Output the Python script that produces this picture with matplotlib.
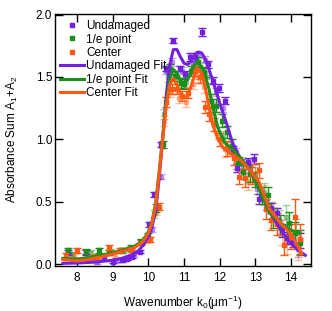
import matplotlib
matplotlib.use("Agg")
import matplotlib.pyplot as plt
from matplotlib.lines import Line2D

plt.rcParams['font.family'] = ['Liberation Sans', 'DejaVu Sans']
plt.rcParams['mathtext.fontset'] = 'custom'
plt.rcParams['mathtext.rm'] = 'Liberation Sans'
plt.rcParams['mathtext.it'] = 'Liberation Sans'

# ---------------- data ----------------
und_x = [7.75, 8.25, 8.75, 9.0, 9.25, 9.4, 9.55, 9.75, 10.02, 10.16, 10.36, 10.5, 10.68, 10.89, 11.03,
         11.18, 11.3, 11.5, 11.68, 11.82, 11.98, 12.16, 12.36, 12.48, 12.8, 12.96, 13.11, 13.43, 13.6,
         13.75, 13.9, 14.05, 14.25]
und_y = [0.09, 0.09, 0.05, 0.02, 0.03, 0.04, 0.06, 0.10, 0.32, 0.56, 0.96, 1.57, 1.79, 1.57, 1.52,
         1.66, 1.66, 1.86, 1.60, 1.47, 1.41, 1.31, 0.92, 0.77, 0.82, 0.84, 0.52, 0.45, 0.41,
         0.27, 0.21, 0.19, 0.19]
und_e = [0.02, 0.02, 0.02, 0.01, 0.01, 0.01, 0.01, 0.01, 0.02, 0.02, 0.02, 0.02, 0.02, 0.02, 0.03,
         0.03, 0.03, 0.03, 0.03, 0.03, 0.03, 0.03, 0.03, 0.03, 0.03, 0.04, 0.04, 0.04, 0.04,
         0.05, 0.05, 0.05, 0.06]

und2_x = [8.05, 8.55, 9.1, 9.6, 10.1, 10.35, 10.5, 10.65, 10.95, 11.25, 11.4, 11.6, 11.9, 12.1, 12.45,
          12.65, 12.85, 13.05, 13.3, 13.5, 13.7, 13.95, 14.2]
und2_y = [0.03, 0.02, 0.03, 0.08, 0.28, 0.70, 1.55, 1.62, 1.55, 1.60, 1.68, 1.64, 1.38, 1.25, 0.90,
          0.80, 0.78, 0.60, 0.47, 0.40, 0.30, 0.22, 0.12]
und2_e = [0.02, 0.02, 0.02, 0.02, 0.02, 0.02, 0.03, 0.03, 0.03, 0.03, 0.03, 0.03, 0.03, 0.03, 0.03,
          0.04, 0.04, 0.04, 0.04, 0.05, 0.05, 0.06, 0.06]

ie_x = [7.75, 8.25, 8.6, 8.9, 9.25, 9.5, 9.8, 10.0, 10.2, 10.4, 10.6, 10.75, 10.9, 11.0, 11.2, 11.4,
        11.55, 11.75, 11.9, 12.05, 12.2, 12.35, 12.5, 12.65, 12.85, 13.0, 13.2, 13.35, 13.5, 13.7,
        13.95, 14.1, 14.25]
ie_y = [0.11, 0.10, 0.11, 0.09, 0.11, 0.13, 0.18, 0.23, 0.45, 0.96, 1.56, 1.51, 1.45, 1.44, 1.55, 1.62,
        1.54, 1.31, 1.27, 1.15, 1.06, 0.95, 0.81, 0.74, 0.72, 0.68, 0.55, 0.55, 0.37, 0.31,
        0.33, 0.25, 0.17]
ie_e = [0.02, 0.02, 0.02, 0.02, 0.02, 0.02, 0.02, 0.02, 0.03, 0.03, 0.04, 0.04, 0.04, 0.04, 0.04, 0.04,
        0.04, 0.05, 0.05, 0.05, 0.05, 0.05, 0.05, 0.06, 0.06, 0.06, 0.07, 0.07, 0.08, 0.08,
        0.09, 0.09, 0.10]

ie2_x = [7.85, 8.4, 8.95, 9.45, 9.9, 10.15, 10.45, 10.55, 10.8, 11.05, 11.25, 11.45, 11.65, 11.85,
         12.1, 12.3, 12.6, 12.8, 13.0, 13.25, 13.45, 13.65, 13.85, 14.15]
ie2_y = [0.08, 0.09, 0.10, 0.12, 0.20, 0.40, 1.20, 1.50, 1.50, 1.46, 1.56, 1.58, 1.50, 1.25,
         1.02, 0.93, 0.80, 0.78, 0.72, 0.58, 0.42, 0.35, 0.38, 0.26]
ie2_e = [0.02, 0.02, 0.02, 0.02, 0.02, 0.03, 0.04, 0.04, 0.04, 0.04, 0.04, 0.04, 0.05, 0.05,
         0.05, 0.05, 0.06, 0.06, 0.06, 0.07, 0.08, 0.08, 0.09, 0.10]

cen_x = [7.7, 8.0, 8.3, 8.55, 8.9, 9.2, 9.55, 9.8, 10.05, 10.3, 10.5, 10.65, 10.8, 10.95, 11.1, 11.3,
         11.45, 11.6, 11.7, 11.85, 12.0, 12.2, 12.4, 12.55, 12.7, 12.9, 13.1, 13.3, 13.45, 13.6,
         13.8, 14.0, 14.1, 14.25]
cen_y = [0.07, 0.11, 0.05, 0.06, 0.13, 0.11, 0.12, 0.17, 0.20, 0.46, 1.30, 1.40, 1.40, 1.35, 1.37, 1.55,
         1.50, 1.26, 1.20, 1.12, 1.00, 0.93, 0.85, 0.70, 0.69, 0.72, 0.75, 0.44, 0.35, 0.32,
         0.15, 0.22, 0.38, 0.20]
cen_e = [0.02, 0.02, 0.02, 0.02, 0.02, 0.02, 0.02, 0.02, 0.02, 0.03, 0.04, 0.04, 0.04, 0.04, 0.04, 0.04,
         0.05, 0.05, 0.05, 0.05, 0.05, 0.06, 0.06, 0.06, 0.07, 0.08, 0.06, 0.08, 0.08, 0.09,
         0.08, 0.10, 0.14, 0.12]

cen2_x = [7.9, 8.45, 9.05, 9.5, 9.95, 10.2, 10.45, 10.6, 10.85, 11.05, 11.25, 11.4, 11.55, 11.75,
          11.95, 12.15, 12.45, 12.65, 12.8, 13.0, 13.25, 13.5, 13.75, 13.9, 14.2]
cen2_y = [0.06, 0.05, 0.08, 0.12, 0.19, 0.42, 1.15, 1.38, 1.33, 1.30, 1.44, 1.50, 1.42, 1.20,
          1.05, 0.92, 0.82, 0.75, 0.66, 0.72, 0.55, 0.40, 0.25, 0.18, 0.15]
cen2_e = [0.02, 0.02, 0.02, 0.02, 0.02, 0.03, 0.04, 0.04, 0.04, 0.04, 0.04, 0.05, 0.05, 0.05,
          0.05, 0.06, 0.06, 0.07, 0.07, 0.08, 0.08, 0.09, 0.10, 0.10, 0.12]

undfit_x = [7.6, 8.0, 8.5, 9.0, 9.25, 9.5, 9.7, 9.85, 10.0, 10.1, 10.2, 10.3, 10.4, 10.5, 10.6, 10.7,
            10.8, 10.9, 11.0, 11.1, 11.2, 11.3, 11.4, 11.5, 11.6, 11.7, 11.85, 12.0, 12.2, 12.35,
            12.55, 12.85, 13.1, 13.4, 13.7, 13.95, 14.2, 14.4]
undfit_y = [0.005, 0.008, 0.015, 0.03, 0.045, 0.07, 0.10, 0.15, 0.22, 0.30, 0.42, 0.68, 1.00, 1.35,
            1.60, 1.72, 1.72, 1.66, 1.61, 1.60, 1.63, 1.68, 1.70, 1.69, 1.64, 1.56, 1.43, 1.29,
            1.12, 0.98, 0.86, 0.75, 0.62, 0.42, 0.28, 0.18, 0.11, 0.07]

iefit_x = [7.6, 8.0, 8.3, 8.8, 9.25, 9.6, 9.85, 10.0, 10.1, 10.2, 10.3, 10.4, 10.5, 10.6, 10.7, 10.8,
           10.9, 11.0, 11.1, 11.2, 11.3, 11.4, 11.5, 11.6, 11.7, 11.8, 11.95, 12.15, 12.4, 12.65,
           12.9, 13.15, 13.4, 13.7, 14.0, 14.25]
iefit_y = [0.045, 0.04, 0.05, 0.077, 0.11, 0.14, 0.19, 0.26, 0.34, 0.48, 0.74, 1.02, 1.30, 1.49,
           1.56, 1.53, 1.47, 1.45, 1.48, 1.55, 1.60, 1.61, 1.58, 1.50, 1.40, 1.27, 1.09, 0.97,
           0.91, 0.83, 0.73, 0.57, 0.41, 0.33, 0.27, 0.25]

cenfit_x = [7.6, 8.0, 8.3, 8.8, 9.25, 9.6, 9.85, 10.0, 10.1, 10.2, 10.3, 10.4, 10.5, 10.6, 10.7, 10.8,
            10.9, 11.0, 11.1, 11.2, 11.3, 11.4, 11.5, 11.6, 11.7, 11.8, 11.95, 12.1, 12.35, 12.6,
            12.85, 13.1, 13.4, 13.7, 14.0, 14.2, 14.3]
cenfit_y = [0.035, 0.025, 0.035, 0.065, 0.10, 0.13, 0.18, 0.25, 0.33, 0.47, 0.72, 1.00, 1.27, 1.44,
            1.49, 1.44, 1.37, 1.33, 1.35, 1.43, 1.52, 1.56, 1.53, 1.41, 1.26, 1.12, 1.00, 0.93,
            0.875, 0.83, 0.75, 0.66, 0.44, 0.33, 0.24, 0.14, 0.08]

labels = ['Undamaged', '1/e point', 'Center']
fit_labels = ['Undamaged Fit', '1/e point Fit', 'Center Fit']
colors = ['#7420e0', '#1b8f1b', '#ff5a14']

xticks = [8, 9, 10, 11, 12, 13, 14]
yticks = [0.0, 0.5, 1.0, 1.5, 2.0]

# ---------------- figure ----------------
fig = plt.figure(figsize=(3.32, 3.11), dpi=100)
ax = fig.add_axes([0.1657, 0.1463, 0.771, 0.8087])

light_sets = [(und2_x, und2_y, und2_e), (ie2_x, ie2_y, ie2_e), (cen2_x, cen2_y, cen2_e)]
dark_sets = [(und_x, und_y, und_e), (ie_x, ie_y, ie_e), (cen_x, cen_y, cen_e)]

for (x, y, e), c in zip(light_sets, colors):
    ax.errorbar(x, y, yerr=e, fmt='s', ms=3.4, color=c, ecolor=c, elinewidth=1.0,
                capsize=3, capthick=1.0, alpha=0.4, zorder=2)
for (x, y, e), c in zip(dark_sets, colors):
    ax.errorbar(x, y, yerr=e, fmt='s', ms=3.4, color=c, ecolor=c, elinewidth=1.0,
                capsize=3, capthick=1.0, zorder=3)

fits = [(undfit_x, undfit_y), (iefit_x, iefit_y), (cenfit_x, cenfit_y)]
for (x, y), c in zip(fits, colors):
    ax.plot(x, y, '-', color=c, lw=2.2, zorder=4, solid_joinstyle='round')

ax.set_xlim(7.38, 14.56)
ax.set_ylim(-0.012, 2.005)
ax.set_xticks(xticks)
ax.set_xticklabels([str(t) for t in xticks])
ax.set_yticks(yticks)
ax.set_yticklabels(['%.1f' % t for t in yticks])
ax.tick_params(direction='in', length=6, width=1.0, top=True, right=True, labelsize=8.5)
ax.tick_params(axis='x', pad=5)
ax.tick_params(axis='y', pad=2)
for s in ax.spines.values():
    s.set_linewidth(1.0)

ax.set_xlabel('Wavenumber k$_0$(μm$^{-1}$)', fontsize=8.5, labelpad=7)
ax.set_ylabel('Absorbance Sum A$_1$+A$_2$', fontsize=8.5, labelpad=11)

handles = [Line2D([], [], ls='none', marker='s', ms=3.4, color=c) for c in colors]
handles += [Line2D([], [], ls='-', lw=2.2, color=c) for c in colors]
ax.legend(handles, labels + fit_labels, loc='upper left', bbox_to_anchor=(0.01, 0.985),
          frameon=False, fontsize=8.5, handlelength=2.0, handletextpad=0.25,
          labelspacing=0.12, borderpad=0.2, borderaxespad=0.0)

fig.savefig('out.png', dpi=100)
